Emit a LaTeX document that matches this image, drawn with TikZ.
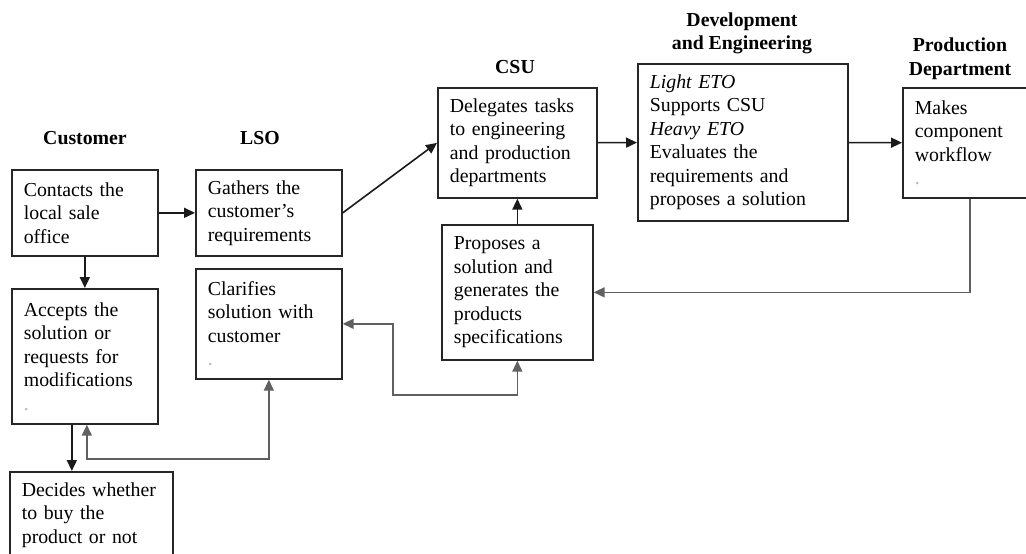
\documentclass[tikz,border=0pt]{standalone}
\usepackage{fontspec}
\setmainfont{Liberation Serif}
\usetikzlibrary{arrows.meta}
\definecolor{color_box_line}{HTML}{262626}
\definecolor{color_flow}{HTML}{1A1A1A}
\definecolor{color_return}{HTML}{606060}
\definecolor{color_stray}{HTML}{B4B4B4}
\def\boxlinewidth{1.7pt}
\def\flowlinewidth{1.6pt}
\def\diagramfont{\fontsize{19.8}{23.5}\selectfont}
\def\straydot{{\color{color_stray}.}}
\tikzset{
    procbox/.style={draw=color_box_line, line width=\boxlinewidth, anchor=north west,
        align=left, inner xsep=12pt, inner ysep=0pt, font=\diagramfont},
    lanetitle/.style={font=\diagramfont\bfseries, align=center},
    flow/.style={color_flow, line width=\flowlinewidth},
    returnflow/.style={color_return, line width=\flowlinewidth}
}

\begin{document}
\begin{tikzpicture}[x=1pt, y=-1pt, >={Triangle[length=11pt,width=10pt]}]
    \clip (0,0) rectangle (1026,554);
    % lane titles
    \node[lanetitle] (t_customer) at (85,138) {Customer};
    \node[lanetitle] (t_lso) at (260,138) {LSO};
    \node[lanetitle] (t_csu) at (515,67) {CSU};
    \node[lanetitle] (t_dev) at (742,33.5) {Development\\and Engineering};
    \node[lanetitle] (t_prod) at (960,58.5) {Production\\Department};
    % process boxes
    \node[procbox, text width=122pt, minimum height=86pt] (contact) at (11,169)
        {Contacts the\\local sale\\office};
    \node[procbox, text width=122pt, minimum height=135pt] (accept) at (11,288)
        {Accepts the\\solution or\\requests for\\modifications\\\straydot};
    \node[procbox, text width=139pt, minimum height=86pt] (decide) at (9,471)
        {Decides whether\\to buy the\\product or not};
    \node[procbox, text width=122pt, minimum height=86pt] (gather) at (195,169)
        {Gathers the\\customer’s\\requirements};
    \node[procbox, text width=122pt, minimum height=110pt] (clarify) at (195,268)
        {Clarifies\\solution with\\customer\\\straydot};
    \node[procbox, text width=135pt, minimum height=110pt] (delegate) at (437,87)
        {Delegates tasks\\to engineering\\and production\\departments};
    \node[procbox, text width=127pt, minimum height=135pt] (propose) at (441,224)
        {Proposes a\\solution and\\generates the\\products\\specifications};
    \node[procbox, text width=186pt, minimum height=157pt] (dev) at (637,63)
        {\textit{Light ETO}\\Supports CSU\\\textit{Heavy ETO}\\Evaluates the\\requirements and\\proposes a solution};
    \node[procbox, text width=110pt, minimum height=110pt] (prod) at (902,87)
        {Makes\\component\\workflow\\\straydot};
    % forward flow
    \draw[flow, ->] (contact) -- (gather);
    \draw[flow, ->] (contact) -- (accept);
    \draw[flow, ->] (gather.east) -- (delegate.west);
    \draw[flow, ->] (delegate) -- (dev);
    \draw[flow, ->] (dev) -- (prod);
    \draw[flow, ->] (propose) -- (delegate);
    \draw[flow, ->] ([xshift=-13pt]accept.south) -- ([xshift=-13pt]accept.south |- decide.north);
    % feedback
    \draw[returnflow, ->] (prod.south) |- (propose.east);
    \draw[returnflow, <->] (propose.south) -- ++(0,34) -| ([xshift=50pt]clarify.east) -- (clarify.east);
    \draw[returnflow, <->] ([xshift=2pt]accept.south) -- ++(0,34) -| (clarify.south);
\end{tikzpicture}
\end{document}
